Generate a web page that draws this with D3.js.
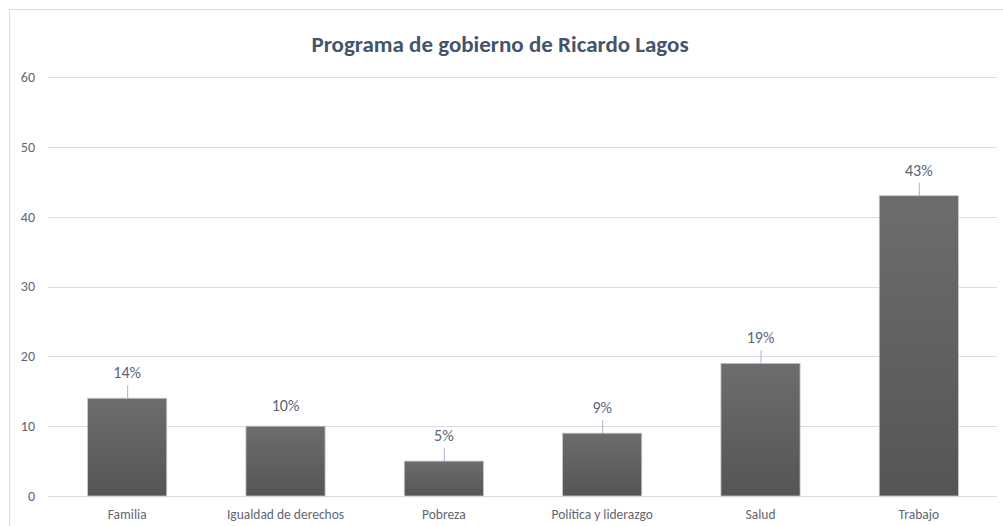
<!DOCTYPE html>
<html><head><meta charset="utf-8">
<script src="https://cdn.jsdelivr.net/npm/d3@7"></script>
<style>
html,body{margin:0;padding:0;background:#fff;}
svg{display:block;}
</style></head>
<body>
<svg id="chart" width="1003" height="526"></svg>
<script>
const categories = ["Familia","Igualdad de derechos","Pobreza","Política y liderazgo","Salud","Trabajo"];
const values = [14,10,5,9,19,43];
const valueLabels = ["14%","10%","5%","9%","19%","43%"];
const yTicks = [0,10,20,30,40,50,60];
const leaderLines = [true,false,true,true,true,true];
const title = "Programa de gobierno de Ricardo Lagos";

const rows = categories.map((c,i)=>({cat:c, v:values[i], label:valueLabels[i], leader:leaderLines[i]}));

const svg = d3.select("#chart");
const W = 1003, H = 526;
const m = {left:48, right:5, top:77, bottom:30};
const FONT = "Carlito, Lato, 'Open Sans', sans-serif";

const defs = svg.append("defs");
const grad = defs.append("linearGradient").attr("id","barGrad")
  .attr("x1",0).attr("y1",0).attr("x2",0).attr("y2",1);
grad.append("stop").attr("offset","0%").attr("stop-color","#6d6d6d");
grad.append("stop").attr("offset","100%").attr("stop-color","#555555");

svg.append("rect").attr("x",9.5).attr("y",9.5).attr("width",W).attr("height",H)
  .attr("fill","#fff").attr("stroke","#d9d9d9").attr("stroke-width",1);

const x = d3.scaleBand().domain(categories).range([m.left, W - m.right]).paddingInner(0.5).paddingOuter(0.25);
const y = d3.scaleLinear().domain([0,60]).range([H - m.bottom, m.top]);

// gridlines
svg.append("g").selectAll("line").data(yTicks).join("line")
  .attr("x1",m.left).attr("x2",W - m.right - 1)
  .attr("y1",d=>Math.round(y(d))+0.5).attr("y2",d=>Math.round(y(d))+0.5)
  .attr("stroke","#d9dde6").attr("stroke-width",1);

// y axis labels
const yAxis = d3.axisLeft(y).tickValues(yTicks).tickSize(0).tickPadding(0);
const ga = svg.append("g").attr("transform",`translate(${m.left-13},0)`).call(yAxis);
ga.select(".domain").remove();
ga.selectAll("text").attr("font-family",FONT)
  .attr("font-size",14).attr("fill","#5f6673").attr("text-anchor","end");

// x axis labels
const xAxis = d3.axisBottom(x).tickSize(0).tickPadding(0);
const gx = svg.append("g").attr("transform",`translate(0,${H-m.bottom+13})`).call(xAxis);
gx.select(".domain").remove();
gx.selectAll("text").attr("font-family",FONT)
  .attr("font-size",13.5).attr("fill","#5f6673");

// bars
svg.append("g").selectAll("rect").data(rows).join("rect")
  .attr("x",d=>x(d.cat))
  .attr("y",d=>y(d.v))
  .attr("width",x.bandwidth())
  .attr("height",d=>y(0)-y(d.v))
  .attr("fill","url(#barGrad)")
  .attr("stroke","#c8c8c8").attr("stroke-width",0.8);

// leader lines
svg.append("g").selectAll("line").data(rows.filter(d=>d.leader)).join("line")
  .attr("x1",d=>x(d.cat)+x.bandwidth()/2+0.5)
  .attr("x2",d=>x(d.cat)+x.bandwidth()/2+0.5)
  .attr("y1",d=>y(d.v)-13).attr("y2",d=>y(d.v))
  .attr("stroke","#a6b4c8").attr("stroke-width",1);

// value labels
svg.append("g").selectAll("text").data(rows).join("text")
  .attr("x",d=>x(d.cat)+x.bandwidth()/2)
  .attr("y",d=>y(d.v)-(d.leader?20:15))
  .attr("text-anchor","middle")
  .attr("font-family",FONT)
  .attr("font-size",16).attr("fill","#5a6478")
  .text(d=>d.label);

// title
svg.append("text").attr("x",500).attr("y",52).attr("text-anchor","middle")
  .attr("font-family",FONT)
  .attr("font-weight","bold").attr("font-size",23).attr("fill","#44546a")
  .text(title);
</script>
</body></html>
